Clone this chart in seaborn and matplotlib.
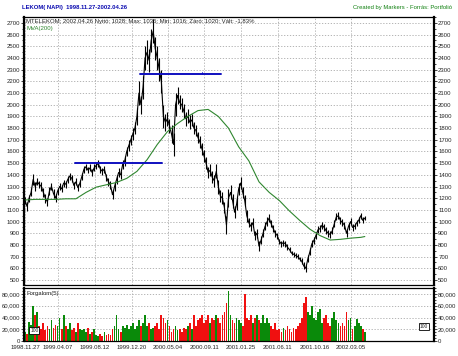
import matplotlib
matplotlib.use('Agg')
import matplotlib.pyplot as plt
import matplotlib.ticker as mticker
import seaborn as sns
import numpy as np

# weekly closes, 1998.11.27 - 2002.04.26
close = [1180, 1130, 1200, 1250, 1360, 1300, 1340, 1320, 1300, 1250,
         1200, 1170, 1260, 1300, 1240, 1200, 1260, 1300, 1280, 1330,
         1320, 1360, 1390, 1370, 1310, 1340, 1290, 1330, 1390, 1450,
         1470, 1440, 1460, 1420, 1460, 1480, 1500, 1450, 1430, 1450,
         1380, 1340, 1310, 1230, 1300, 1360, 1420, 1400, 1490, 1520,
         1600, 1650, 1700, 1750, 1800, 1900, 2100, 2000, 2150, 2400,
         2450, 2380, 2550, 2630, 2480, 2400, 2300, 2200, 1900, 1850,
         1880, 1820, 1750, 1660, 2000, 2080, 2020, 2000, 1950, 1880,
         1900, 1850, 1870, 1800, 1780, 1720, 1680, 1620, 1560, 1500,
         1420, 1440, 1380, 1350, 1430, 1300, 1220, 1200, 1120, 970,
         1200, 1250, 1180, 1080, 1150, 1280, 1330, 1250, 1180, 1050,
         990, 960, 990, 880, 900, 790, 840, 900, 960, 1000,
         1030, 980, 940, 900, 880, 830, 810, 820, 810, 780,
         760, 730, 720, 710, 700, 680, 660, 620, 600, 680,
         740, 810, 840, 880, 930, 940, 970, 950, 920, 900,
         890, 920, 980, 1040, 1050, 1010, 990, 970, 900, 960,
         1000, 950, 960, 990, 1010, 1050, 1010, 1030]

# weekly high-low range (thickness of the daily bar band)
week_range = [60, 80, 60, 70, 90, 70, 60, 60, 70, 80,
              80, 70, 70, 60, 70, 70, 60, 60, 60, 60,
              60, 60, 60, 60, 60, 60, 60, 60, 60, 60,
              50, 50, 60, 60, 60, 60, 60, 60, 60, 60,
              60, 70, 70, 80, 70, 70, 70, 70, 80, 80,
              80, 90, 90, 100, 100, 150, 200, 150, 200, 200,
              200, 200, 200, 200, 200, 200, 200, 200, 200, 150,
              120, 120, 150, 200, 200, 150, 120, 120, 120, 120,
              120, 120, 100, 100, 100, 100, 100, 100, 100, 100,
              100, 100, 100, 100, 120, 120, 100, 100, 100, 150,
              150, 120, 120, 100, 100, 100, 100, 100, 100, 100,
              80, 80, 80, 80, 80, 80, 70, 70, 70, 70,
              70, 60, 60, 60, 50, 50, 50, 50, 50, 50,
              40, 40, 40, 40, 40, 40, 50, 60, 60, 60,
              60, 60, 60, 60, 60, 60, 60, 60, 60, 60,
              60, 60, 60, 60, 60, 60, 60, 60, 60, 60,
              60, 60, 50, 50, 50, 50, 50, 40]

# weekly turnover peaks, thousands
volume = [15, 12, 33, 28, 60, 45, 50, 25, 20, 30,
          18, 25, 20, 35, 22, 28, 25, 40, 20, 45,
          25, 20, 30, 18, 22, 15, 30, 20, 18, 20,
          15, 22, 12, 15, 20, 10, 8, 12, 8, 15,
          10, 12, 10, 20, 25, 45, 20, 15, 25, 22,
          28, 20, 25, 30, 20, 25, 35, 25, 30, 45,
          25, 30, 20, 22, 25, 30, 20, 45, 40, 30,
          35, 25, 15, 20, 25, 18, 20, 15, 22, 20,
          25, 30, 20, 45, 25, 35, 40, 45, 30, 35,
          45, 30, 40, 35, 45, 40, 30, 45, 50, 65,
          85, 45, 35, 30, 40, 35, 30, 25, 80, 40,
          35, 45, 30, 40, 45, 35, 30, 45, 30, 40,
          30, 25, 20, 30, 18, 20, 15, 22, 18, 25,
          20, 15, 22, 20, 25, 30, 40, 65, 75, 50,
          45, 60, 40, 35, 50, 55, 30, 40, 45, 30,
          25, 40, 50, 35, 30, 25, 30, 25, 50, 35,
          40, 20, 25, 38, 30, 25, 20, 15]

# 200 day moving average, read every 5 weeks
mva_week = [0, 5, 10, 15, 20, 25, 30, 35, 40, 45, 50, 55, 60, 65, 70, 75, 80, 85,
            90, 95, 100, 105, 110, 115, 120, 125, 130, 135, 140, 145, 150, 155,
            160, 165, 167]
mva = [1185, 1190, 1190, 1190, 1195, 1195, 1250, 1295, 1315, 1335, 1370, 1430,
       1530, 1660, 1770, 1840, 1900, 1950, 1960, 1900, 1800, 1640, 1520, 1340,
       1250, 1180, 1090, 1010, 935, 880, 842, 848, 858, 865, 872]

date_labels = ['1998.11.27', '1999.04.07', '1999.08.12', '1999.12.20', '2000.05.04',
               '2000.09.11', '2001.01.25', '2001.06.11', '2001.10.16', '2002.03.05']
date_pos = [0, 16.2, 34.4, 52.6, 70.3, 88.0, 106.1, 124.3, 142.5, 160.2]

# trend lines drawn on the chart
support = (24.6, 67.3, 1500)
resist = (56.5, 96.3, 2265)

weeks = np.arange(len(close))
close_a = np.array(close)
rng_a = np.array(week_range)

sns.set_style('white')
plt.rcParams['font.family'] = ['Liberation Sans', 'DejaVu Sans']

fig = plt.figure(figsize=(4.58, 3.56), dpi=100)
ax = fig.add_axes([0.0524, 0.1994, 0.8952, 0.7528])
axv = fig.add_axes([0.0524, 0.0421, 0.8952, 0.1489])

grid_kw = dict(color='#a8a8a8', linestyle=(0, (1.5, 2)), linewidth=0.6)

# price panel
ax.vlines(weeks, close_a - rng_a / 2, close_a + rng_a / 2, color='black', linewidth=0.8)
sns.lineplot(x=weeks, y=close, ax=ax, color='black', linewidth=0.8)
sns.lineplot(x=mva_week, y=mva, ax=ax, color='#2f862f', linewidth=0.8)
ax.plot(support[:2], [support[2]] * 2, color='#1010c0', linewidth=1.4)
ax.plot(resist[:2], [resist[2]] * 2, color='#1010c0', linewidth=1.4)
ax.plot([87, 87], [resist[2], resist[2] + 12], color='#1010c0', linewidth=0.6)

ax.set_xlim(-0.5, 201)
ax.set_ylim(457, 2751)
ax.set_yticks(range(500, 2701, 100))
ax.yaxis.set_minor_locator(mticker.MultipleLocator(50))
ax.set_xticks(date_pos)
ax.set_xticklabels([])
ax.grid(True, **grid_kw)
ax.tick_params(axis='y', which='both', labelright=True, right=True, left=True,
               labelsize=4.3, length=2, width=0.6, pad=1)
ax.tick_params(axis='y', which='minor', length=1.2)
ax.tick_params(axis='x', length=0)

ax.text(0.005, 0.993, 'MTELEKOM; 2002.04.26 Nyitó: 1028; Max: 1035; Min: 1016; Záró: 1020; Vált: -1,83%',
        transform=ax.transAxes, fontsize=4.3, va='top', ha='left')
ax.text(0.005, 0.968, 'MVA(200)', transform=ax.transAxes, fontsize=4.3,
        va='top', ha='left', color='#2f862f')

# turnover panel
prev = [close[0]] + close[:-1]
colors = ['#0a8a0a' if c >= p else '#f01010' for c, p in zip(close, prev)]
axv.bar(weeks, [v * 1000 for v in volume], width=0.85, color=colors, linewidth=0)

axv.set_xlim(-0.5, 201)
axv.set_ylim(0, 90200)
axv.set_yticks(range(0, 80001, 20000))
axv.yaxis.set_major_formatter(mticker.FuncFormatter(lambda v, p: f'{int(v):,}'))
axv.yaxis.set_minor_locator(mticker.MultipleLocator(5000))
axv.set_xticks(date_pos)
axv.set_xticklabels(date_labels)
axv.grid(True, **grid_kw)
axv.tick_params(axis='y', which='both', labelright=True, right=True, left=True,
                labelsize=4.3, length=2, width=0.6, pad=1)
axv.tick_params(axis='y', which='minor', length=1.2)
axv.tick_params(axis='x', labelsize=4.3, length=2, width=0.6, pad=1)
axv.text(0.005, 0.95, 'Forgalom(5)', transform=axv.transAxes, fontsize=4.3,
         va='top', ha='left')

for a in (ax, axv):
    for side in ('top', 'bottom'):
        a.spines[side].set_linewidth(0.9)
    for side in ('left', 'right'):
        a.spines[side].set_linewidth(1.6)
    for s in a.spines.values():
        s.set_color('black')

box = dict(boxstyle='square,pad=0.15', facecolor='white', edgecolor='black', linewidth=0.6)
axv.text(0.015, 0.2, '100', transform=axv.transAxes, fontsize=3.5, ha='left', va='center', bbox=box)
axv.text(0.985, 0.27, '100', transform=axv.transAxes, fontsize=3.5, ha='right', va='center', bbox=box)

fig.text(22 / 458, 1 - 8 / 356, 'LEKOM( NAPI)  1998.11.27-2002.04.26', fontsize=4.2,
         fontweight='bold', color='#0a0ab0', va='center', ha='left')
fig.text(452 / 458, 1 - 7 / 356, 'Created by Markers - Forrás: Portfolió', fontsize=4.2,
         color='#108010', va='center', ha='right')

fig.savefig('out.png', dpi=100)
